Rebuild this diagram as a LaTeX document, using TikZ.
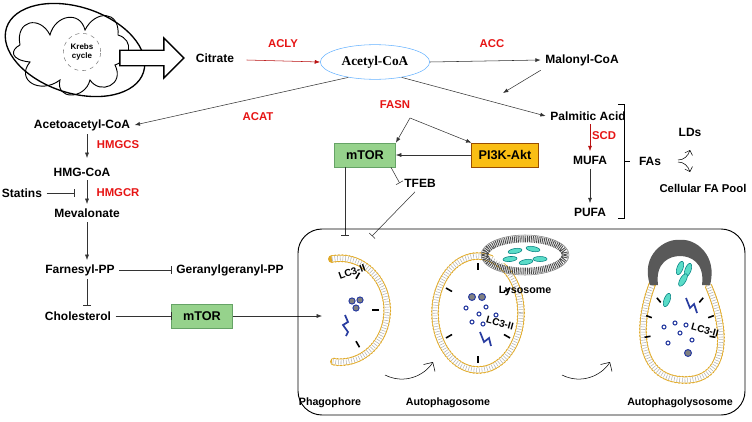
\documentclass[tikz,border=0pt]{standalone}
\usepackage{fontspec}
\setmainfont{Liberation Sans}
\newfontfamily\serifbf{Liberation Serif}
\usetikzlibrary{arrows.meta,decorations.pathreplacing,shapes.arrows,shapes.geometric,calc}
\definecolor{enz}{RGB}{230,20,20}
\definecolor{boxg}{RGB}{150,210,140}
\definecolor{boxo}{RGB}{250,190,20}
\definecolor{memb}{RGB}{225,170,40}
\definecolor{cargo}{RGB}{40,60,160}
\definecolor{lyso}{RGB}{90,220,200}
\begin{document}
\begin{tikzpicture}[x=0.75pt,y=-0.75pt,
  lab/.style={font=\fontsize{9}{10}\selectfont\bfseries},
  en/.style={font=\fontsize{8.5}{10}\selectfont\bfseries,text=enz},
  sm/.style={font=\fontsize{7.5}{9}\selectfont\bfseries},
  ar/.style={-{Latex[length=4pt,width=3pt]},thin,draw=black!80},
  inh/.style={-{Bar[width=6pt]},thin,draw=black!80},
  gbox/.style={draw=green!40!black!60,fill=boxg,minimum width=46pt,minimum height=18pt,font=\fontsize{9.5}{10}\selectfont\bfseries},
  mem/.style={line width=6pt,draw=memb,dash pattern=on 0pt off 2.6pt,line cap=round},
  memin/.style={line width=4pt,draw=white},
  memgr/.style={line width=3.6pt,draw=gray!60,dash pattern=on 0.4pt off 1.6pt}]
\useasboundingbox (0,0) rectangle (752,421);
% mitochondrion
\draw[line width=1pt,rotate around={-18:(75,50)}] (75,50) ellipse (72 and 43);
\draw[line width=0.7pt] (20,45) .. controls (15,20) and (40,15) .. (50,35) .. controls (55,15) and (80,10) .. (85,30)
  .. controls (95,10) and (120,10) .. (118,35) .. controls (135,40) and (130,60) .. (115,65)
  .. controls (125,85) and (100,95) .. (90,80) .. controls (85,100) and (55,100) .. (60,80)
  .. controls (40,95) and (15,80) .. (30,62) .. controls (10,60) and (10,50) .. (20,45);
\node[circle,draw=gray,dashed,fill=white,minimum size=28pt,inner sep=0pt,font=\fontsize{6}{7}\selectfont\bfseries,align=center] (krebs) at (82,52) {Krebs\\cycle};
\node[single arrow,draw,line width=1pt,fill=white,minimum height=48pt,minimum width=30pt,single arrow head extend=4pt,inner sep=2pt] (bigar) at (148,58) {};
\node[lab] (cit) at (215,58) {Citrate};
\node[draw=blue!50!cyan!60,ellipse,minimum width=82pt,minimum height=26pt,font=\serifbf\fontsize{10}{11}\selectfont\bfseries] (acoa) at (375,62) {Acetyl-CoA};
\node[en] at (283,44) {ACLY};
\draw[ar,draw=enz!80!black] ($(cit.east)+(8,2)$) -- (acoa.west);
\node[lab] (mal) at (582,60) {Malonyl-CoA};
\node[en] at (492,44) {ACC};
\draw[ar] (acoa.east) -- (mal.west);
\node[lab] (palm) at (588,116) {Palmitic Acid};
\coordinate (mj) at (503,93);
\draw[ar] (acoa.-30) -- (palm.west);
\draw[ar] (mal.south west) -- (mj);
\node[lab] (aca) at (82,125) {Acetoacetyl-CoA};
\node[en] at (258,117) {ACAT};
\draw[ar] (acoa.-150) -- (aca.east);
\node[lab] (hmg) at (82,172) {HMG-CoA};
\node[en] at (118,145) {HMGCS};
\draw[ar] (87,134) -- (87,158);
\node[lab] (mev) at (87,213) {Mevalonate};
\node[en] at (118,193) {HMGCR};
\draw[ar] (87,180) -- (87,204);
\node[lab] (stat) at (22,193) {Statins};
\draw[inh] (stat.east) -- (75,193);
\node[lab] (far) at (80,270) {Farnesyl-PP};
\draw[ar] (mev.south) -- (87,260);
\node[lab] (ger) at (230,270) {Geranylgeranyl-PP};
\draw[inh] (far.east) -- (ger.west);
\node[lab] (chol) at (78,316) {Cholesterol};
\draw[inh] (87,279) -- (87,306);
\node[gbox] (mt2) at (202,316) {mTOR};
\draw[inh] (chol.east) -- (mt2.west);
\draw[ar] (mt2.east) -- (322,316);
% FASN
\node[en] (fasn) at (395,105) {FASN};
\node[gbox] (mt1) at (365,155) {mTOR};
\node[draw=orange!60!black,fill=boxo,minimum width=50pt,minimum height=18pt,font=\fontsize{9.5}{10}\selectfont\bfseries] (pi3k) at (505,155) {PI3K-Akt};
\coordinate (fj) at (410,118);
\draw[ar] (fj) -- (mt1.north east);
\draw[ar] (fj) -- (pi3k.north west);
\draw[ar] (pi3k.west) -- (mt1.east);
\node[lab] (tfeb) at (420,183) {TFEB};
\draw[inh] ($(mt1.south east)+(-5,0)$) -- (tfeb.west);
\draw[inh] (345,167) -- (345,236);
\draw[inh] ($(tfeb.south)+(-5,0)$) -- (372,236);
% FAs
\node[en] (scd) at (604,136) {SCD};
\node[lab] (mufa) at (590,160) {MUFA};
\node[lab] (pufa) at (590,212) {PUFA};
\draw[ar,draw=enz!80!black] (590,124) -- (mufa.north);
\draw[ar] (mufa.south) -- (pufa.north);
\draw[thin] (618,104) -- (624,104) -- (624,218) -- (618,218);
\draw[thin] (624,161) -- (630,161);
\node[lab] (fas) at (650,161) {FAs};
\node[lab] (lds) at (690,132) {LDs};
\node[lab,font=\fontsize{8.5}{10}\selectfont\bfseries] (pool) at (703,188) {Cellular FA Pool};
\draw[thin,-{Straight Barb[length=3pt]}] (678,160) .. controls (684,160) and (688,156) .. (690,150);
\draw[thin,-{Straight Barb[length=3pt]}] (678,162) .. controls (684,162) and (688,166) .. (690,172);
% panel
\draw[line width=0.7pt,rounded corners=18pt] (298,229) rectangle (745,415);
% phagophore
\foreach \s in {mem,memin,memgr}{\draw[\s] (332,259) arc (-100:100:47 and 52);}
\foreach \a in {60,0,-60}{\draw[line width=1.2pt] ($(340,310)+(\a:39 and 43)$) -- ++(\a+180:7);}
\node[sm,rotate=20] at (352,272) {LC3-II};
\foreach \p in {(352,301),(360,300),(356,308)}{\fill[cargo] \p circle (3.6); \fill[gray] \p circle(2.4);}
\draw[cargo,line width=1.3pt] (345,315) -- (348,322) -- (343,325) -- (348,332) -- (346,336);
% autophagosome
\foreach \s in {mem,memin,memgr}{\draw[\s] (478,313) ellipse (43 and 57);}
\foreach \a in {90,30,-30,-90,150,210}{\draw[line width=1.2pt] ($(478,313)+(\a:37 and 50)$) -- ++(\a+180:7);}
\foreach \p in {(472,297),(482,297)}{\fill[cargo] \p circle (4); \fill[gray] \p circle(2.8);}
\foreach \p in {(466,308),(486,307),(479,314),(496,315),(472,322),(483,324)}{\draw[cargo,line width=0.8pt] \p circle (2);}
\draw[cargo,line width=1.3pt] (480,332) -- (484,342) -- (489,338) -- (491,346);
\node[sm,rotate=-15] at (500,323) {LC3-II};
% lysosome
\draw[line width=5pt,draw=black!70,dash pattern=on 0.7pt off 0.7pt] (525,255) ellipse (40 and 16);
\draw[gray] (525,255) ellipse (44 and 20);
\fill[white] (525,255) ellipse (32 and 11);
\foreach \p/\r in {(515,251)/10,(533,249)/-10,(510,259)/5,(540,259)/0,(526,262)/10}{\fill[lyso,draw=teal,rotate around={\r:\p}] \p ellipse (7 and 2.5);}
\node[lab,font=\fontsize{8}{9}\selectfont\bfseries] (lyl) at (525,291) {Lysosome};
% autophagolysosome
\foreach \s in {mem,memin,memgr}{\draw[\s] (652,285) .. controls (635,330) and (640,380) .. (685,380) .. controls (728,380) and (728,330) .. (708,285);}
\fill[black!65] (650,285) .. controls (640,255) and (665,238) .. (680,240) .. controls (695,238) and (718,255) .. (710,285) -- (702,285) .. controls (705,262) and (690,256) .. (680,256) .. controls (670,256) and (655,262) .. (658,285) -- cycle;
\foreach \a in {10,-20,-50,170,200,230}{\draw[line width=1.2pt] ($(680,330)+(\a:36 and 42)$) -- ++(\a+180:6);}
\foreach \p/\r in {(680,268)/70,(688,270)/70,(683,280)/60,(667,300)/70}{\fill[lyso,draw=teal,rotate around={\r:\p}] \p ellipse (7 and 3);}
\draw[cargo,line width=1.3pt] (686,298) -- (690,308) -- (694,304) -- (697,313);
\foreach \p in {(664,327),(675,323),(686,325),(680,333),(668,343),(692,340)}{\draw[cargo,line width=0.8pt] \p circle (2);}
\fill[cargo] (688,353) circle (4); \fill[gray] (688,353) circle (2.8);
\node[sm,rotate=-15] at (705,330) {LC3-II};
% curved arrows
\draw[thin,-{Straight Barb[length=5pt]}] (385,375) .. controls (405,385) and (425,375) .. (433,362);
\draw[thin,-{Straight Barb[length=5pt]}] (562,375) .. controls (582,385) and (602,375) .. (610,362);
\node[lab,font=\fontsize{8}{9}\selectfont\bfseries] at (330,403) {Phagophore};
\node[lab,font=\fontsize{8}{9}\selectfont\bfseries] at (448,403) {Autophagosome};
\node[lab,font=\fontsize{8}{9}\selectfont\bfseries] at (680,403) {Autophagolysosome};
\end{tikzpicture}
\end{document}
